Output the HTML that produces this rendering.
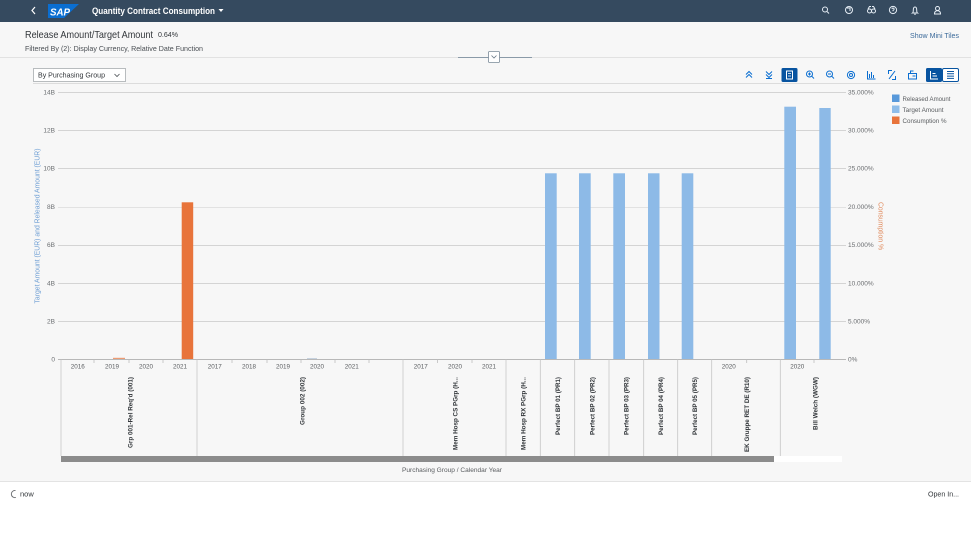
<!DOCTYPE html>
<html><head><meta charset="utf-8"><style>
html,body{margin:0;padding:0;width:971px;height:545px;overflow:hidden;background:#f7f7f7;}
svg{display:block;font-family:"Liberation Sans",sans-serif;}
</style></head><body>
<svg width="971" height="545" viewBox="0 0 971 545" xmlns="http://www.w3.org/2000/svg">
<rect x="0" y="0" width="971" height="545" fill="#f7f7f7"/>
<!-- shell header -->
<rect x="0" y="0" width="971" height="22" fill="#354a5f"/>
<path d="M35 7 L32 10.5 L35 14" stroke="#fff" stroke-width="1.2" fill="none"/>
<polygon points="48,4 79,4 64,18 48,18" fill="#0a6ed1"/>
<text x="50" y="15.5" font-size="10" font-weight="bold" font-style="italic" fill="#fff" textLength="20" lengthAdjust="spacingAndGlyphs">SAP</text>
<text x="92" y="14" font-size="9" font-weight="bold" fill="#fff" textLength="123" lengthAdjust="spacingAndGlyphs">Quantity Contract Consumption</text>
<polygon points="218.5,9 223.5,9 221,12" fill="#fff"/>
<!-- header icons -->
<g stroke="#e6eef6" stroke-width="1" fill="none">
<circle cx="825" cy="9.5" r="2.5"/><line x1="827" y1="11.5" x2="829" y2="13.5"/>
<circle cx="849" cy="10" r="3.5"/><path d="M847 8 h3 v3"/>
<circle cx="869.5" cy="11" r="2"/><circle cx="873.5" cy="11" r="2"/><path d="M868 9 l1.5-2.5 h1.5 M875 9 l-1.5-2.5 h-1.5"/>
<circle cx="893" cy="10" r="3.6"/><path d="M891.8 9 q1.2-2 2.4 0 q0 1-1.2 1.5 v0.8"/>
<path d="M912.5 13 q0.8-0.5 0.8-3 q0-3 1.7-3 q1.7 0 1.7 3 q0 2.5 0.8 3 z M914.2 14.2 h1.6"/>
<circle cx="937.5" cy="8.5" r="2"/><path d="M934.5 14 q0-3.2 3-3.2 q3 0 3 3.2 z"/>
</g>
<!-- title area -->
<text x="25" y="38" font-size="10.5" fill="#32363a" textLength="128" lengthAdjust="spacingAndGlyphs">Release Amount/Target Amount</text>
<text x="158" y="37" font-size="7.5" fill="#32363a" textLength="20" lengthAdjust="spacingAndGlyphs">0.64%</text>
<text x="25" y="51" font-size="7.5" fill="#4a4f54" textLength="178" lengthAdjust="spacingAndGlyphs">Filtered By (2): Display Currency, Relative Date Function</text>
<text x="910" y="38" font-size="7.5" fill="#3b6a9a" textLength="49" lengthAdjust="spacingAndGlyphs">Show Mini Tiles</text>
<line x1="0" y1="57.5" x2="971" y2="57.5" stroke="#e2e2e2" stroke-width="1"/>
<line x1="458" y1="57.5" x2="532" y2="57.5" stroke="#8a9aa8" stroke-width="1"/>
<rect x="488.5" y="51.5" width="11" height="11" fill="#fff" stroke="#7a8a98" stroke-width="0.8" rx="1"/>
<path d="M491.5 55.5 L494 58 L496.5 55.5" stroke="#6a7a88" stroke-width="0.8" fill="none"/>
<!-- dropdown -->
<rect x="33.5" y="68.5" width="92" height="13" fill="#fff" stroke="#a7acb0" stroke-width="0.8"/>
<text x="38" y="77.7" font-size="7.5" fill="#32363a" textLength="67" lengthAdjust="spacingAndGlyphs">By Purchasing Group</text>
<path d="M114.5 74 L117 76.5 L119.5 74" stroke="#4a4f54" stroke-width="0.8" fill="none"/>
<line x1="33" y1="83.5" x2="960" y2="83.5" stroke="#dcdcdc" stroke-width="1"/>
<!-- toolbar icons -->
<g stroke="#0a6ed1" stroke-width="1" fill="none">
<path d="M746 74.5 l3-3 l3 3 M746 77.5 l3-3 l3 3"/>
<path d="M766 71.5 l3 3 l3-3 M766 74.5 l3 3 l3-3 M766 78.5 h6"/>
<circle cx="809.5" cy="74" r="3"/><line x1="811.7" y1="76.2" x2="814" y2="78.5"/><path d="M808 74 h3 M809.5 72.5 v3"/>
<circle cx="829.5" cy="74" r="3"/><line x1="831.7" y1="76.2" x2="834" y2="78.5"/><path d="M828 74 h3"/>
<circle cx="851" cy="75" r="3.6"/><circle cx="851" cy="75" r="1.5"/>
<path d="M867.5 71 v8 h8 M869.5 78 v-4 M871.5 78 v-6 M873.5 78 v-3"/>
<path d="M888.5 74 v-3.5 h3.5 M895.5 76 v3.5 h-3.5 M889 79 l6-8"/>
<path d="M908.5 73.5 h8 v5.5 h-8 z M910.5 73.5 v-2.5 h3 M912.5 76 h3"/>
</g>
<rect x="781.5" y="68" width="16" height="14" rx="1.5" fill="#0854a0"/>
<rect x="786.5" y="71" width="6" height="8" fill="none" stroke="#fff" stroke-width="1"/>
<path d="M788 73.5 h3 M788 76 h3" stroke="#fff" stroke-width="0.8"/>
<rect x="926" y="68" width="16" height="14" rx="1.5" fill="#0854a0"/>
<path d="M930.5 71 v8 h7.5 M932.5 73.5 h3 M932.5 76 h4.5" stroke="#fff" stroke-width="1" fill="none"/>
<rect x="942.5" y="68.5" width="16" height="13" rx="1.5" fill="#fff" stroke="#0854a0" stroke-width="1"/>
<path d="M947 71.5 h7 M947 73.8 h7 M947 76.1 h7 M947 78.4 h7" stroke="#0854a0" stroke-width="1"/>
<!-- gridlines -->
<g stroke="#d4d4d4" stroke-width="1">
<line x1="58" y1="92.5" x2="846" y2="92.5"/>
<line x1="58" y1="130.5" x2="846" y2="130.5"/>
<line x1="58" y1="168.5" x2="846" y2="168.5"/>
<line x1="58" y1="207.5" x2="846" y2="207.5" stroke="#e2e2e2"/>
<line x1="58" y1="245.5" x2="846" y2="245.5"/>
<line x1="58" y1="283.5" x2="846" y2="283.5"/>
<line x1="58" y1="321.5" x2="846" y2="321.5"/>
</g>
<line x1="58" y1="359.5" x2="846" y2="359.5" stroke="#b8b8b8" stroke-width="1"/>
<!-- left axis labels -->
<g font-size="6.5" fill="#6a6d70" text-anchor="end">
<text x="55" y="94.5">14B</text>
<text x="55" y="132.7">12B</text>
<text x="55" y="170.7">10B</text>
<text x="55" y="209">8B</text>
<text x="55" y="247">6B</text>
<text x="55" y="285.3">4B</text>
<text x="55" y="323.5">2B</text>
<text x="55" y="361.5">0</text>
</g>
<!-- right axis labels -->
<g font-size="6.5" fill="#6a6d70">
<text x="848" y="94.5">35.000%</text>
<text x="848" y="132.7">30.000%</text>
<text x="848" y="170.7">25.000%</text>
<text x="848" y="209">20.000%</text>
<text x="848" y="247">15.000%</text>
<text x="848" y="285.3">10.000%</text>
<text x="848" y="323.5">5.000%</text>
<text x="848" y="361.5">0%</text>
</g>
<!-- axis titles -->
<text transform="translate(39.5,226) rotate(-90)" text-anchor="middle" font-size="7" fill="#6f9fd4" textLength="155" lengthAdjust="spacingAndGlyphs">Target Amount (EUR) and Released Amount (EUR)</text>
<text transform="translate(878.5,226) rotate(90)" text-anchor="middle" font-size="7" fill="#e08a5c" textLength="48" lengthAdjust="spacingAndGlyphs">Consumption %</text>
<!-- legend -->
<rect x="892" y="94.5" width="7.5" height="7.5" fill="#5899da"/>
<rect x="892" y="105.5" width="7.5" height="7.5" fill="#8fbde9"/>
<rect x="892" y="116.5" width="7.5" height="7.5" fill="#e8743b"/>
<g font-size="6.5" fill="#5a5d60">
<text x="902.5" y="100.8" textLength="48" lengthAdjust="spacingAndGlyphs">Released Amount</text>
<text x="902.5" y="111.8" textLength="41" lengthAdjust="spacingAndGlyphs">Target Amount</text>
<text x="902.5" y="122.8" textLength="44" lengthAdjust="spacingAndGlyphs">Consumption %</text>
</g>
<!-- bars -->
<rect x="181.7" y="202.3" width="11.5" height="156.7" fill="#e8743b"/>
<rect x="113" y="357.8" width="12" height="1.2" fill="#e8743b" opacity="0.7"/>
<rect x="307" y="358.2" width="10" height="0.8" fill="#b9c9d9"/>
<g fill="#8dbae7">
<rect x="545" y="173.3" width="11.7" height="185.7"/>
<rect x="579" y="173.3" width="11.7" height="185.7"/>
<rect x="613.3" y="173.3" width="11.7" height="185.7"/>
<rect x="648" y="173.3" width="11.5" height="185.7"/>
<rect x="681.7" y="173.3" width="11.6" height="185.7"/>
<rect x="784.3" y="106.7" width="11.7" height="252.3"/>
<rect x="819.3" y="108" width="11.4" height="251"/>
</g>
<!-- category separators -->
<g stroke="#c6c6c6" stroke-width="0.8">
<line x1="61" y1="359.5" x2="61" y2="456"/>
<line x1="197" y1="359.5" x2="197" y2="456"/>
<line x1="403" y1="359.5" x2="403" y2="456"/>
<line x1="506" y1="359.5" x2="506" y2="456"/>
<line x1="540.3" y1="359.5" x2="540.3" y2="456"/>
<line x1="574.7" y1="359.5" x2="574.7" y2="456"/>
<line x1="609" y1="359.5" x2="609" y2="456"/>
<line x1="643.7" y1="359.5" x2="643.7" y2="456"/>
<line x1="677.7" y1="359.5" x2="677.7" y2="456"/>
<line x1="711.7" y1="359.5" x2="711.7" y2="456"/>
<line x1="780.3" y1="359.5" x2="780.3" y2="456"/>
</g>
<g stroke="#bdbdbd" stroke-width="0.8">
<line x1="94" y1="359.5" x2="94" y2="363"/><line x1="129" y1="359.5" x2="129" y2="363"/><line x1="163" y1="359.5" x2="163" y2="363"/>
<line x1="232" y1="359.5" x2="232" y2="363"/><line x1="267" y1="359.5" x2="267" y2="363"/><line x1="301" y1="359.5" x2="301" y2="363"/><line x1="335" y1="359.5" x2="335" y2="363"/><line x1="369" y1="359.5" x2="369" y2="363"/>
<line x1="437.5" y1="359.5" x2="437.5" y2="363"/><line x1="472" y1="359.5" x2="472" y2="363"/>
<line x1="746.7" y1="359.5" x2="746.7" y2="363"/><line x1="814" y1="359.5" x2="814" y2="363"/>
</g>
<!-- year labels -->
<g font-size="6.3" fill="#5a5d60" text-anchor="middle">
<text x="77.7" y="368.3">2016</text><text x="112" y="368.3">2019</text><text x="146" y="368.3">2020</text><text x="180" y="368.3">2021</text>
<text x="214.7" y="368.3">2017</text><text x="249" y="368.3">2018</text><text x="283" y="368.3">2019</text><text x="317" y="368.3">2020</text><text x="351.7" y="368.3">2021</text>
<text x="420.7" y="368.3">2017</text><text x="455" y="368.3">2020</text><text x="489" y="368.3">2021</text>
<text x="728.7" y="368.3">2020</text><text x="797.3" y="368.3">2020</text>
</g>
<!-- group labels -->
<g font-size="6.3" font-weight="bold" fill="#32363a" text-anchor="end">
<text transform="translate(132.3,377) rotate(-90)" textLength="71" lengthAdjust="spacingAndGlyphs">Grp 001-Rel Req'd (001)</text>
<text transform="translate(304.3,377) rotate(-90)" textLength="48" lengthAdjust="spacingAndGlyphs">Group 002 (002)</text>
<text transform="translate(457.3,377) rotate(-90)" textLength="73" lengthAdjust="spacingAndGlyphs">Mem Hosp CS PGrp (H...</text>
<text transform="translate(525.3,377) rotate(-90)" textLength="73" lengthAdjust="spacingAndGlyphs">Mem Hosp RX PGrp (H...</text>
<text transform="translate(560,377) rotate(-90)" textLength="58" lengthAdjust="spacingAndGlyphs">Perfect BP 01 (PR1)</text>
<text transform="translate(594.3,377) rotate(-90)" textLength="58" lengthAdjust="spacingAndGlyphs">Perfect BP 02 (PR2)</text>
<text transform="translate(628.3,377) rotate(-90)" textLength="58" lengthAdjust="spacingAndGlyphs">Perfect BP 03 (PR3)</text>
<text transform="translate(663,377) rotate(-90)" textLength="58" lengthAdjust="spacingAndGlyphs">Perfect BP 04 (PR4)</text>
<text transform="translate(697,377) rotate(-90)" textLength="58" lengthAdjust="spacingAndGlyphs">Perfect BP 05 (PR5)</text>
<text transform="translate(749,377) rotate(-90)" textLength="75" lengthAdjust="spacingAndGlyphs">EK Gruppe RET DE (R10)</text>
<text transform="translate(817.3,377) rotate(-90)" textLength="53" lengthAdjust="spacingAndGlyphs">Bill Welch (WGW)</text>
</g>
<!-- scrollbar -->
<rect x="61" y="456" width="713" height="6" fill="#8c8c8c"/>
<rect x="774" y="456" width="68" height="6" fill="#ffffff"/>
<text x="452" y="472" font-size="6.5" fill="#5a5d60" text-anchor="middle" textLength="100" lengthAdjust="spacingAndGlyphs">Purchasing Group / Calendar Year</text>
<!-- footer -->
<rect x="0" y="482" width="971" height="63" fill="#ffffff"/>
<line x1="0" y1="481.5" x2="971" y2="481.5" stroke="#e3e3e3" stroke-width="1"/>
<path d="M15.5 490.5 A3.6 3.6 0 1 0 16 497.5" stroke="#6a6d70" stroke-width="0.9" fill="none"/>
<text x="20" y="496.5" font-size="7.5" fill="#32363a">now</text>
<text x="928" y="496.5" font-size="7.5" fill="#32363a" textLength="31" lengthAdjust="spacingAndGlyphs">Open In...</text>
</svg>
</body></html>
